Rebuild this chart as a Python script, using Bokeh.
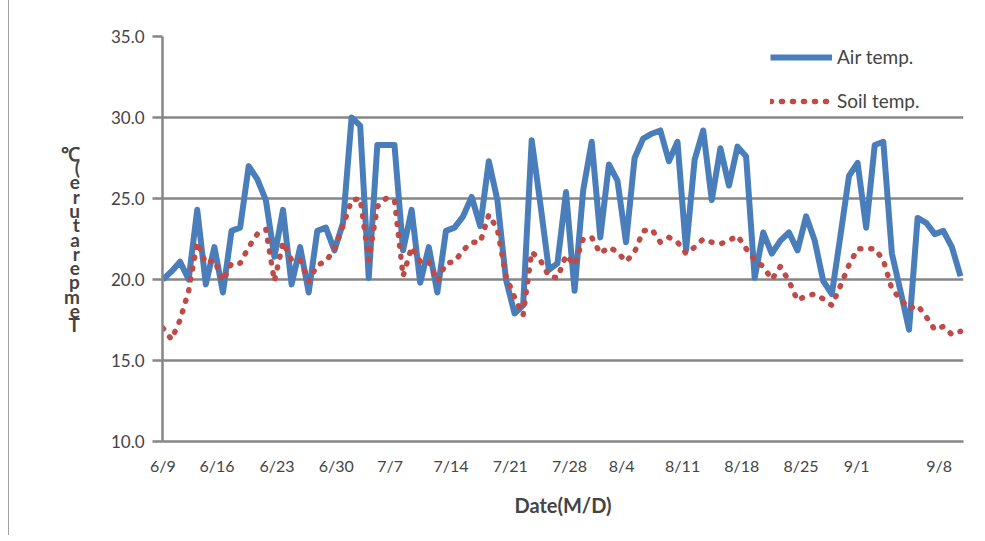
from bokeh.plotting import figure
from bokeh.models import Range1d, FixedTicker, Legend, LegendItem
from bokeh.embed import file_html
from bokeh.resources import INLINE

# Daily observations, 6/9 .. 9/10 (index = day number from 6/9)
air_temp = [20.0, 20.5, 21.1, 20.0, 24.3, 19.7, 22.0, 19.2, 23.0, 23.2,
            27.0, 26.2, 24.9, 21.4, 24.3, 19.7, 22.0, 19.2, 23.0, 23.2,
            21.8, 23.5, 30.0, 29.5, 20.1, 28.3, 28.3, 28.3, 21.8, 24.3,
            19.8, 22.0, 19.2, 23.0, 23.2, 23.9, 25.1, 23.3, 27.3, 24.9,
            20.0, 17.9, 18.4, 28.6, 24.7, 20.6, 21.0, 25.4, 19.3, 25.5,
            28.5, 22.6, 27.1, 26.1, 22.3, 27.5, 28.7, 29.0, 29.2, 27.3,
            28.5, 21.8, 27.4, 29.2, 24.9, 28.1, 25.8, 28.2, 27.6, 20.1,
            22.9, 21.6, 22.4, 22.9, 21.8, 23.9, 22.4, 19.9, 19.1, 22.7,
            26.4, 27.2, 23.2, 28.3, 28.5, 21.6, 19.3, 16.9, 23.8, 23.5,
            22.8, 23.0, 22.0, 20.2]
soil_temp = [17.0, 16.3, 17.5, 19.3, 22.3, 21.0, 21.2, 19.9, 21.0, 21.0,
             22.0, 22.8, 23.1, 19.9, 22.3, 21.2, 21.2, 19.9, 20.9, 21.1,
             21.9, 23.3, 24.9, 25.0, 21.2, 24.5, 25.0, 24.9, 20.2, 22.0,
             21.1, 21.1, 19.9, 21.0, 21.1, 21.8, 22.3, 22.3, 24.0, 23.1,
             20.2, 18.9, 17.8, 21.7, 21.2, 20.2, 20.1, 21.5, 20.9, 22.5,
             22.6, 21.6, 22.0, 21.7, 21.1, 21.7, 23.0, 23.1, 22.3, 22.6,
             22.3, 21.6, 22.0, 22.5, 22.3, 22.2, 22.4, 22.7, 21.9, 21.2,
             20.8, 20.0, 20.8, 19.9, 18.7, 19.0, 19.1, 18.8, 18.4, 19.6,
             20.9, 21.9, 21.9, 21.9, 21.2, 19.4, 18.8, 18.2, 18.4, 17.7,
             16.9, 17.1, 16.6, 16.8]
day = list(range(len(air_temp)))

# category-axis label positions as laid out in the original chart
tick_pos = [0, 6.3, 13.3, 20.2, 26.5, 33.6, 40.5, 47.4, 53.5, 60.6,
            67.5, 74.4, 80.9, 90.5]
tick_labels = ["6/9", "6/16", "6/23", "6/30", "7/7", "7/14", "7/21",
               "7/28", "8/4", "8/11", "8/18", "8/25", "9/1", "9/8"]
y_ticks = [10, 15, 20, 25, 30, 35]

FONT = "Lato"
GRID = "#868686"

p = figure(width=970, height=535, output_backend="svg", toolbar_location=None,
           x_range=Range1d(-0.05, 93.35), y_range=Range1d(10, 35),
           min_border_left=153, min_border_right=16, min_border_top=36,
           min_border_bottom=94)
p.styles = {"margin-left": "8px", "border-left": "1px solid #a0a0a0"}
p.outline_line_color = None
p.background_fill_color = "white"
p.border_fill_color = "white"

r_air = p.line(day, air_temp, line_color="#4A7EBB", line_width=6,
               line_join="round")
r_soil = p.line(day, soil_temp, line_color="#BE4B48", line_width=5.5,
                line_dash="1 10", line_cap="round", line_join="round")

# axes
p.xaxis.ticker = FixedTicker(ticks=tick_pos)
p.xaxis.major_label_overrides = {t: l for t, l in zip(tick_pos, tick_labels)}
p.xaxis.major_tick_line_color = None
p.xaxis.minor_tick_line_color = None
p.xaxis.axis_line_color = GRID
p.xaxis.axis_line_width = 2.5
p.xaxis.major_label_text_font = FONT
p.xaxis.major_label_text_font_size = "16px"
p.xaxis.major_label_standoff = 8
p.xaxis.axis_label = "Date(M/D)"
p.xaxis.axis_label_text_font = FONT
p.xaxis.axis_label_text_font_size = "20px"
p.xaxis.axis_label_text_font_style = "bold"
p.xaxis.axis_label_standoff = 15

p.yaxis.ticker = FixedTicker(ticks=y_ticks)
p.yaxis.major_label_overrides = {v: f"{v:.1f}" for v in y_ticks}
p.yaxis.minor_tick_line_color = None
p.yaxis.major_tick_in = 0
p.yaxis.major_tick_out = 10
p.yaxis.major_tick_line_color = GRID
p.yaxis.major_tick_line_width = 2.5
p.yaxis.axis_line_color = GRID
p.yaxis.axis_line_width = 2.5
p.yaxis.major_label_text_font = FONT
p.yaxis.major_label_text_font_size = "17px"
p.yaxis.major_label_standoff = 8
# stacked y-axis title (as drawn in the original)
p.yaxis.axis_label = "℃\n(\ne\nr\nu\nt\na\nr\ne\np\nm\ne\nT"
p.yaxis.axis_label_orientation = "horizontal"
p.yaxis.axis_label_text_font = FONT
p.yaxis.axis_label_text_font_size = "19px"
p.yaxis.axis_label_text_font_style = "bold"
p.yaxis.axis_label_text_line_height = 0.62
p.yaxis.axis_label_standoff = 28

p.xgrid.grid_line_color = None
p.ygrid.ticker = FixedTicker(ticks=y_ticks)
p.ygrid.grid_line_color = GRID
p.ygrid.grid_line_width = 2.5

legend = Legend(items=[LegendItem(label="Air temp.", renderers=[r_air]),
                       LegendItem(label="Soil temp.", renderers=[r_soil])],
                location=(608, 329), orientation="vertical",
                border_line_color=None, background_fill_alpha=0,
                glyph_width=62, glyph_height=20, spacing=21, padding=0,
                margin=0, label_standoff=5, label_text_font=FONT,
                label_text_font_size="19px", label_height=20)
p.add_layout(legend)

open("out.html", "w").write(file_html(p, INLINE))
